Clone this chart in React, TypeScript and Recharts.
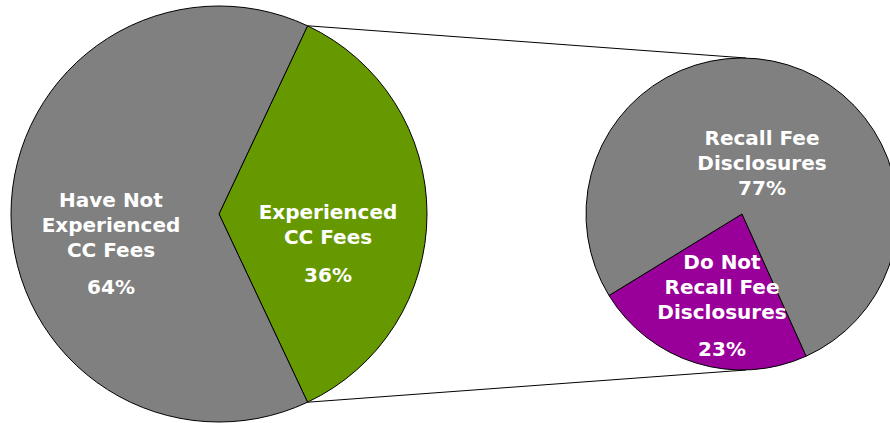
import { PieChart, Pie, Cell, Customized } from "recharts";

// left pie: all respondents
const leftNames = ["Experienced CC Fees", "Have Not Experienced CC Fees"];
const leftValues = [36, 64];
const leftLines = [["Experienced", "CC Fees"], ["Have Not", "Experienced", "CC Fees"]];

// right pie: breakdown of those who experienced fees
const rightNames = ["Do Not Recall Fee Disclosures", "Recall Fee Disclosures"];
const rightValues = [23, 77];
const rightLines = [["Do Not", "Recall Fee", "Disclosures"], ["Recall Fee", "Disclosures"]];

const leftData = leftNames.map((name, i) => ({ name, value: leftValues[i] }));
const rightData = rightNames.map((name, i) => ({ name, value: rightValues[i] }));

const W = 890;
const H = 423;
const L = { cx: 219, cy: 214, r: 208 };
const R = { cx: 742, cy: 214, r: 156 };
const GRAY = "#808080";
const GREEN = "#669900";
const PURPLE = "#990099";

// green slice sits centered on 3 o'clock
const leftStart = -(leftValues[0] / 100) * 180;
const rightStart = -148.5;

// label block offsets from the pie center: [dx, dy of first line, gap before %]
const leftOffsets = [
  [109, -2, 38],
  [-108, -14, 37],
];
const rightOffsets = [
  [-20, 48, 37],
  [20, -76, 25],
];

const font = "Verdana, 'DejaVu Sans', sans-serif";

function makeLabel(lines: string[][], offsets: number[][]) {
  return (props: any) => {
    const { cx, cy, index, value } = props;
    const [dx, dy, gap] = offsets[index];
    const x = cx + dx;
    const rows = lines[index];
    return (
      <g>
        {rows.map((t, k) => (
          <text
            key={k}
            x={x}
            y={cy + dy + k * 25}
            textAnchor="middle"
            dominantBaseline="central"
            fill="#fff"
            fontFamily={font}
            fontWeight="bold"
            fontSize={20}
          >
            {t}
          </text>
        ))}
        <text
          x={x}
          y={cy + dy + (rows.length - 1) * 25 + gap}
          textAnchor="middle"
          dominantBaseline="central"
          fill="#fff"
          fontFamily={font}
          fontWeight="bold"
          fontSize={20}
        >
          {value}%
        </text>
      </g>
    );
  };
}

function Connectors() {
  const a = (Math.abs(leftStart) * Math.PI) / 180;
  const x0 = L.cx + L.r * Math.cos(a);
  const yTop = L.cy - L.r * Math.sin(a);
  const yBot = L.cy + L.r * Math.sin(a);
  return (
    <g>
      <line x1={x0} y1={yTop} x2={R.cx + 4} y2={R.cy - R.r} stroke="#000" strokeWidth={1} />
      <line x1={x0} y1={yBot} x2={R.cx + 4} y2={R.cy + R.r} stroke="#000" strokeWidth={1} />
    </g>
  );
}

export default function App() {
  return (
    <div style={{ position: "absolute", left: 0, top: 0, width: W, height: H, background: "#fff" }}>
      <PieChart width={W} height={H} margin={{ top: 0, right: 0, bottom: 0, left: 0 }}>
        <Customized component={Connectors} />
        <Pie
          data={leftData}
          dataKey="value"
          nameKey="name"
          cx={L.cx}
          cy={L.cy}
          outerRadius={L.r}
          startAngle={leftStart}
          endAngle={leftStart + 360}
          stroke="#000"
          strokeWidth={1}
          label={makeLabel(leftLines, leftOffsets)}
          labelLine={false}
          isAnimationActive={false}
        >
          <Cell fill={GREEN} />
          <Cell fill={GRAY} />
        </Pie>
        <Pie
          data={rightData}
          dataKey="value"
          nameKey="name"
          cx={R.cx}
          cy={R.cy}
          outerRadius={R.r}
          startAngle={rightStart}
          endAngle={rightStart + 360}
          stroke="#000"
          strokeWidth={1}
          label={makeLabel(rightLines, rightOffsets)}
          labelLine={false}
          isAnimationActive={false}
        >
          <Cell fill={PURPLE} />
          <Cell fill={GRAY} />
        </Pie>
      </PieChart>
    </div>
  );
}
